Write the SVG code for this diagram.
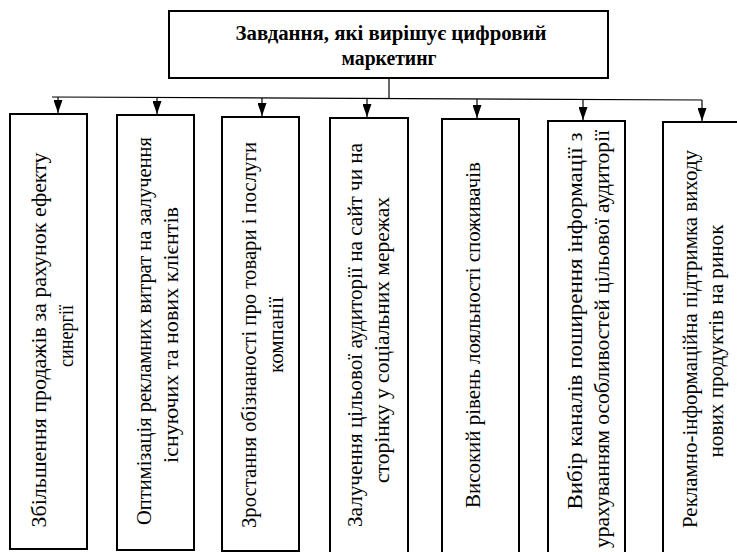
<svg xmlns="http://www.w3.org/2000/svg" width="737" height="552" viewBox="0 0 737 552">
<style>
.box{fill:#fff;stroke:#000;stroke-width:2}
.ln{stroke:#000;stroke-width:1.2;fill:none}
.t{font-family:'Liberation Serif', 'Times New Roman', serif;font-size:20px;fill:#000;text-anchor:middle}
.h{font-weight:bold}
</style>
<defs>
<marker id="ah" markerWidth="13" markerHeight="9" refX="13" refY="4.5" orient="auto" markerUnits="userSpaceOnUse" viewBox="0 0 13 9">
<path d="M0,0 L13,4.5 L0,9 Z" fill="#000"/>
</marker>
</defs>
<rect width="737" height="552" fill="#fff"/>
<g id="connectors">
<line class="ln" x1="389" y1="78" x2="389" y2="98"/>
<line class="ln" x1="52" y1="97" x2="702" y2="100"/>
<line class="ln" x1="58" y1="97" x2="58" y2="113" marker-end="url(#ah)"/>
<line class="ln" x1="157" y1="97.5" x2="157" y2="114" marker-end="url(#ah)"/>
<line class="ln" x1="262" y1="98" x2="262" y2="116" marker-end="url(#ah)"/>
<line class="ln" x1="367" y1="98.5" x2="367" y2="117" marker-end="url(#ah)"/>
<line class="ln" x1="477" y1="99" x2="477" y2="118" marker-end="url(#ah)"/>
<line class="ln" x1="583" y1="99.5" x2="583" y2="120" marker-end="url(#ah)"/>
<line class="ln" x1="702" y1="100" x2="702" y2="121" marker-end="url(#ah)"/>
</g>
<g id="root">
<rect class="box" x="169" y="11" width="439" height="67"/>
<text class="t h" x="391" y="40" textLength="311" lengthAdjust="spacingAndGlyphs">Завдання, які вирішує цифровий</text>
<text class="t h" x="389" y="65" textLength="95" lengthAdjust="spacingAndGlyphs">маркетинг</text>
</g>
<g id="n1">
<rect class="box" x="10" y="114" width="77" height="435"/>
<text class="t" transform="translate(46,340) rotate(-90)" textLength="375" lengthAdjust="spacingAndGlyphs">Збільшення продажів за рахунок ефекту</text>
<text class="t" transform="translate(73,336) rotate(-90)" textLength="62" lengthAdjust="spacingAndGlyphs">синергії</text>
</g>
<g id="n2">
<rect class="box" x="117" y="115" width="77" height="435"/>
<text class="t" transform="translate(151,331) rotate(-90)" textLength="388" lengthAdjust="spacingAndGlyphs">Оптимізація рекламних витрат на залучення</text>
<text class="t" transform="translate(178,335) rotate(-90)" textLength="256" lengthAdjust="spacingAndGlyphs">існуючих та нових клієнтів</text>
</g>
<g id="n3">
<rect class="box" x="222" y="117" width="77" height="434"/>
<text class="t" transform="translate(256,335) rotate(-90)" textLength="386" lengthAdjust="spacingAndGlyphs">Зростання обізнаності про товари і послуги</text>
<text class="t" transform="translate(283,335) rotate(-90)" textLength="76" lengthAdjust="spacingAndGlyphs">компанії</text>
</g>
<g id="n4">
<rect class="box" x="330" y="118" width="78" height="440"/>
<text class="t" transform="translate(362,335) rotate(-90)" textLength="384" lengthAdjust="spacingAndGlyphs">Залучення цільової аудиторії на сайт чи на</text>
<text class="t" transform="translate(389,340) rotate(-90)" textLength="286" lengthAdjust="spacingAndGlyphs">сторінку у соціальних мережах</text>
</g>
<g id="n5">
<rect class="box" x="442" y="119" width="77" height="440"/>
<text class="t" transform="translate(480,335) rotate(-90)" textLength="346" lengthAdjust="spacingAndGlyphs">Високий рівень лояльності споживачів</text>
</g>
<g id="n6">
<rect class="box" x="548" y="121" width="77" height="440"/>
<text class="t" transform="translate(582,321) rotate(-90)" textLength="377" lengthAdjust="spacingAndGlyphs">Вибір каналів поширення інформації з</text>
<text class="t" transform="translate(609,339) rotate(-90)" textLength="418" lengthAdjust="spacingAndGlyphs">урахуванням особливостей цільової аудиторії</text>
</g>
<g id="n7">
<rect class="box" x="663" y="122" width="80" height="440"/>
<text class="t" transform="translate(697,339) rotate(-90)" textLength="378" lengthAdjust="spacingAndGlyphs">Рекламно-інформаційна підтримка виходу</text>
<text class="t" transform="translate(723,341) rotate(-90)" textLength="233" lengthAdjust="spacingAndGlyphs">нових продуктів на ринок</text>
</g>
</svg>
